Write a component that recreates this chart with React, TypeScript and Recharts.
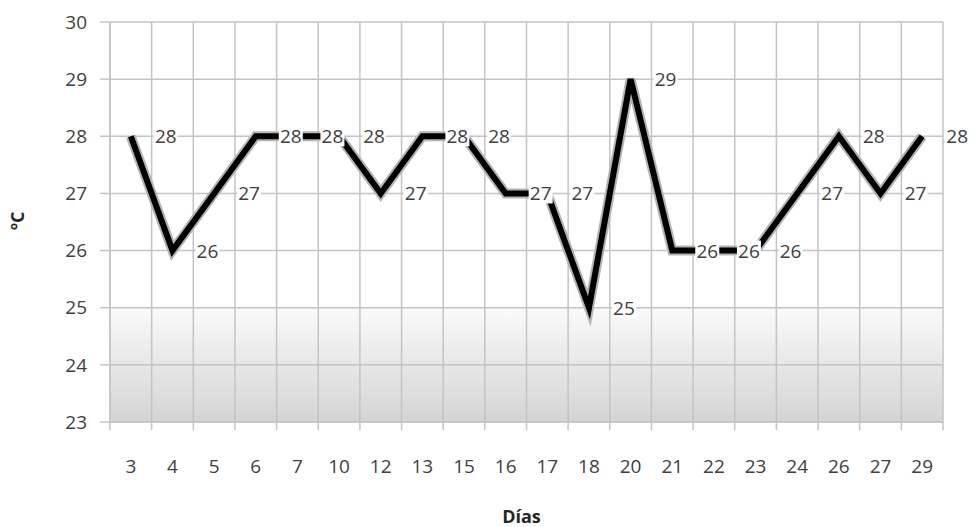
import React from "react";
import {
  LineChart,
  Line,
  XAxis,
  YAxis,
  CartesianGrid,
  LabelList,
  Label,
} from "recharts";

// Days of the month and recorded temperature (ºC)
const dias = ["3", "4", "5", "6", "7", "10", "12", "13", "15", "16", "17", "18", "20", "21", "22", "23", "24", "26", "27", "29"];
const temperaturas = [28, 26, 27, 28, 28, 28, 27, 28, 28, 27, 27, 25, 29, 26, 26, 26, 27, 28, 27, 28];
const ticksY = [23, 24, 25, 26, 27, 28, 29, 30];

const data = dias.map((dia, i) => ({ dia, temp: temperaturas[i] }));

const W = 974;
const H = 527;
const MARGIN = { top: 22, right: 31, bottom: 0, left: 0 };
const Y_AXIS_W = 110;
const X_AXIS_H = 105;
const PLOT_W = W - Y_AXIS_W - MARGIN.right;
const BAND = PLOT_W / dias.length;

const FONT = "'Open Sans', sans-serif";
const TEXT = "#404040";
const GRID = "#c4c4c4";

// stripes between horizontal grid lines, top to bottom; the two lowest get the gray fade
const stripeFills = ["none", "none", "none", "none", "none", "url(#fadeA)", "url(#fadeB)"];

// grid lines sit on the category boundaries, not on the centres
const verticalLines = ({ offset }) =>
  Array.from({ length: dias.length + 1 }, (_, i) => offset.left + i * (offset.width / dias.length));

const TickDia = ({ x, y, payload, index }) => (
  <g>
    <line x1={x - BAND / 2} x2={x - BAND / 2} y1={y} y2={y + 8} stroke={GRID} strokeWidth={1.5} />
    {index === dias.length - 1 && (
      <line x1={x + BAND / 2} x2={x + BAND / 2} y1={y} y2={y + 8} stroke={GRID} strokeWidth={1.5} />
    )}
    <text x={x} y={y + 51} textAnchor="middle" fill={TEXT} fontSize={19} fontFamily={FONT}>
      {payload.value}
    </text>
  </g>
);

const Etiqueta = ({ x, y, value }) => {
  const cx = x + 35;
  return (
    <g>
      <rect x={cx - 12} y={y - 10} width={24} height={20} fill="#fff" />
      <text x={cx} y={y + 7} textAnchor="middle" fill={TEXT} fontSize={19} fontFamily={FONT}>
        {value}
      </text>
    </g>
  );
};

export default function App() {
  return (
    <div style={{ position: "absolute", left: 0, top: 0, background: "#fff" }}>
      <LineChart width={W} height={H} data={data} margin={MARGIN}>
        <defs>
          <linearGradient id="fadeA" x1="0" y1="0" x2="0" y2="1">
            <stop offset="0%" stopColor="#fafafa" />
            <stop offset="100%" stopColor="#e7e7e7" />
          </linearGradient>
          <linearGradient id="fadeB" x1="0" y1="0" x2="0" y2="1">
            <stop offset="0%" stopColor="#e7e7e7" />
            <stop offset="100%" stopColor="#d4d4d4" />
          </linearGradient>
        </defs>
        <CartesianGrid
          stroke={GRID}
          strokeWidth={1.5}
          horizontalFill={stripeFills}
          fillOpacity={1}
          verticalCoordinatesGenerator={verticalLines}
        />
        <XAxis
          dataKey="dia"
          scale="band"
          interval={0}
          height={X_AXIS_H}
          axisLine={{ stroke: GRID, strokeWidth: 1.5 }}
          tickLine={false}
          tickSize={0}
          tickMargin={0}
          tick={<TickDia />}
        >
          <Label
            value="Días"
            position="insideBottom"
            offset={4}
            dx={-5}
            fill="#262626"
            fontSize={18}
            fontWeight="bold"
            fontFamily={FONT}
          />
        </XAxis>
        <YAxis
          domain={[23, 30]}
          ticks={ticksY}
          width={Y_AXIS_W}
          interval={0}
          axisLine={{ stroke: GRID, strokeWidth: 1.5 }}
          tickLine={{ stroke: GRID, strokeWidth: 1.5 }}
          tickSize={10}
          tickMargin={13}
          tick={{ fill: TEXT, fontSize: 19, fontFamily: FONT }}
        >
          <Label
            value="ºC"
            angle={-90}
            position="insideLeft"
            offset={18}
            dy={8}
            fill="#262626"
            fontSize={18}
            fontWeight="bold"
            fontFamily={FONT}
          />
        </YAxis>
        {/* soft gray halo behind the series */}
        <Line
          dataKey="temp"
          type="linear"
          stroke="#b4b4b4"
          strokeWidth={10}
          strokeLinejoin="miter"
          dot={false}
          activeDot={false}
          isAnimationActive={false}
        />
        <Line
          dataKey="temp"
          type="linear"
          stroke="#000"
          strokeWidth={6}
          strokeLinejoin="miter"
          dot={false}
          activeDot={false}
          isAnimationActive={false}
        >
          <LabelList dataKey="temp" content={<Etiqueta />} />
        </Line>
      </LineChart>
    </div>
  );
}
